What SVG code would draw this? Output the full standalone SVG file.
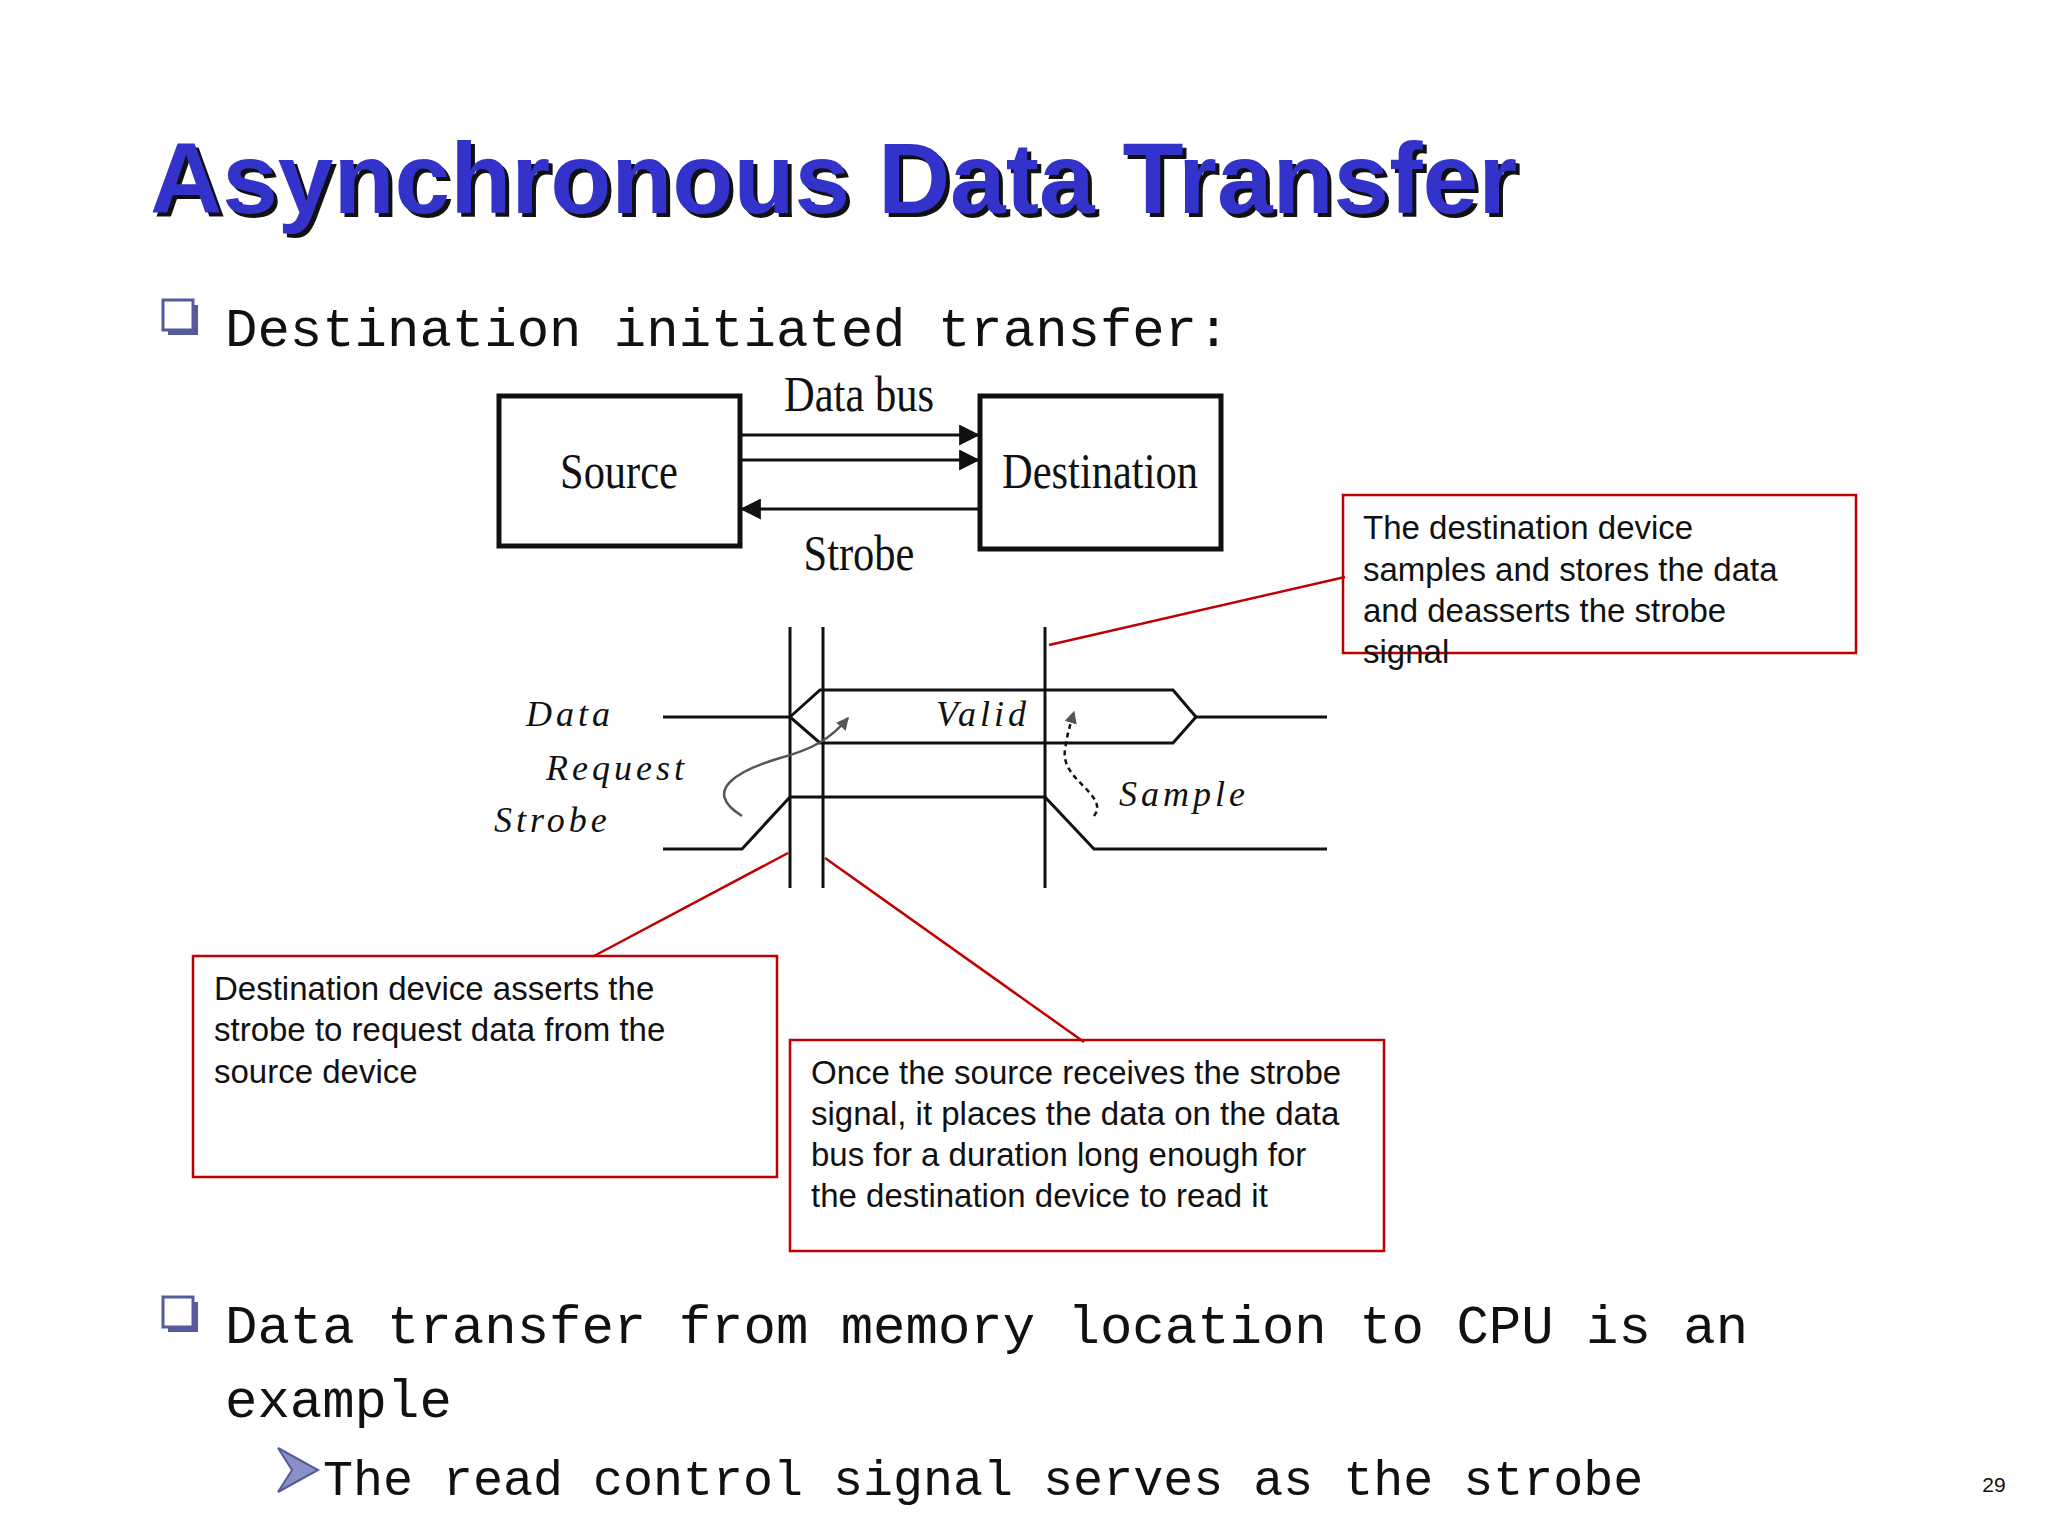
<svg xmlns="http://www.w3.org/2000/svg" width="2048" height="1536" viewBox="0 0 2048 1536">
<defs>
<style>
.mono{font-family:"Liberation Mono","DejaVu Sans Mono",monospace;fill:#111}
.cond{font-family:"Liberation Serif",serif;font-size:50px;fill:#111}
.it{font-family:"Liberation Serif",serif;font-style:italic;font-size:36px;fill:#111;letter-spacing:4px}
.call{font-family:"Liberation Sans",Arial,sans-serif;font-size:33px;fill:#111}
.box{fill:none;stroke:#111;stroke-width:5}
.cb{fill:none;stroke:#c00000;stroke-width:2.5}
.ln{fill:none;stroke:#111;stroke-width:3}
.bullet{fill:#fff;stroke:#555a99;stroke-width:3}
</style>
<marker id="ah" viewBox="0 0 10 10" refX="9" refY="5" markerWidth="7" markerHeight="7" orient="auto"><path d="M0,0L10,5L0,10z" fill="#111"/></marker>
<marker id="ahs" viewBox="0 0 10 10" refX="9" refY="5" markerWidth="5" markerHeight="5" orient="auto"><path d="M0,0L10,5L0,10z" fill="#555"/></marker>
</defs>
<rect width="2048" height="1536" fill="#fff"/>
<g id="title" font-family="Liberation Sans,Arial,sans-serif" font-weight="bold" font-size="100">
<text x="154" y="217" fill="#111">Asynchronous Data Transfer</text>
<text x="150" y="213" fill="#3333cc">Asynchronous Data Transfer</text>
</g>
<g id="bullet1"><rect x="168" y="305" width="30" height="30" fill="#555a99"/><rect class="bullet" x="163" y="300" width="30" height="30"/><text class="mono" x="225" y="346" font-size="54">Destination initiated transfer:</text></g>
<g id="source"><rect class="box" x="499" y="396" width="241" height="150"/><text class="cond" x="619" y="488" text-anchor="middle" transform="translate(619 0) scale(0.85 1) translate(-619 0)">Source</text></g>
<g id="destination"><rect class="box" x="980" y="396" width="241" height="153"/><text class="cond" x="1100" y="488" text-anchor="middle" transform="translate(1100 0) scale(0.85 1) translate(-1100 0)">Destination</text></g>
<g id="connectors">
<line class="ln" x1="740" y1="435" x2="978" y2="435" marker-end="url(#ah)"/>
<line class="ln" x1="740" y1="460" x2="978" y2="460" marker-end="url(#ah)"/>
<line class="ln" x1="980" y1="509" x2="742" y2="509" marker-end="url(#ah)"/>
<line class="cb" x1="1345" y1="577" x2="1049" y2="645"/>
<line class="cb" x1="594" y1="956" x2="788" y2="853"/>
<line class="cb" x1="1084" y1="1042" x2="825" y2="858"/>
</g>
<text class="cond" x="859" y="411" text-anchor="middle" transform="translate(859 0) scale(0.85 1) translate(-859 0)">Data bus</text>
<text class="cond" x="859" y="570" text-anchor="middle" transform="translate(859 0) scale(0.85 1) translate(-859 0)">Strobe</text>
<g id="timing">
<line class="ln" x1="790" y1="627" x2="790" y2="888"/>
<line class="ln" x1="823" y1="627" x2="823" y2="888"/>
<line class="ln" x1="1045" y1="627" x2="1045" y2="888"/>
<polyline class="ln" points="663,717 790,717"/>
<polygon class="ln" points="790,717 820,690 1173,690 1196,717 1173,743 820,743"/>
<polyline class="ln" points="1196,717 1327,717"/>
<polyline class="ln" points="663,849 742,849 790,797 1045,797 1094,849 1327,849"/>
<path d="M742,816 C700,790 740,770 780,758 C810,750 830,740 848,718" fill="none" stroke="#555" stroke-width="2.5" marker-end="url(#ahs)"/>
<path d="M1094,816 C1110,795 1060,780 1065,750 C1067,735 1070,725 1074,712" fill="none" stroke="#111" stroke-width="2.5" stroke-dasharray="5,4" marker-end="url(#ahs)"/>
<text class="it" x="526" y="726">Data</text>
<text class="it" x="546" y="780">Request</text>
<text class="it" x="494" y="832">Strobe</text>
<text class="it" x="936" y="726">Valid</text>
<text class="it" x="1119" y="806">Sample</text>
</g>
<g id="callout1"><rect class="cb" x="1343" y="495" width="513" height="158"/><text class="call"><tspan x="1363" y="539">The destination device</tspan><tspan x="1363" y="581">samples and stores the data</tspan><tspan x="1363" y="622">and deasserts the strobe</tspan><tspan x="1363" y="663">signal</tspan></text></g>
<g id="callout2"><rect class="cb" x="193" y="956" width="584" height="221"/><text class="call"><tspan x="214" y="1000">Destination device asserts the</tspan><tspan x="214" y="1041">strobe to request data from the</tspan><tspan x="214" y="1083">source device</tspan></text></g>
<g id="callout3"><rect class="cb" x="790" y="1040" width="594" height="211"/><text class="call"><tspan x="811" y="1084">Once the source receives the strobe</tspan><tspan x="811" y="1125">signal, it places the data on the data</tspan><tspan x="811" y="1166">bus for a duration long enough for</tspan><tspan x="811" y="1207">the destination device to read it</tspan></text></g>
<g id="bullet2"><rect x="168" y="1302" width="30" height="30" fill="#555a99"/><rect class="bullet" x="163" y="1297" width="30" height="30"/><text class="mono" x="225" y="1343" font-size="54">Data transfer from memory location to CPU is an</text><text class="mono" x="225" y="1417" font-size="54">example</text></g>
<g id="sub"><path d="M278,1448 L318,1470 L278,1492 L292,1470 Z" fill="#8890c8" stroke="#555a99" stroke-width="2"/><text class="mono" x="323" y="1495" font-size="50">The read control signal serves as the strobe</text></g>
<text x="1994" y="1492" font-family="Liberation Sans,Arial,sans-serif" font-size="21" fill="#111" text-anchor="middle">29</text>
</svg>
